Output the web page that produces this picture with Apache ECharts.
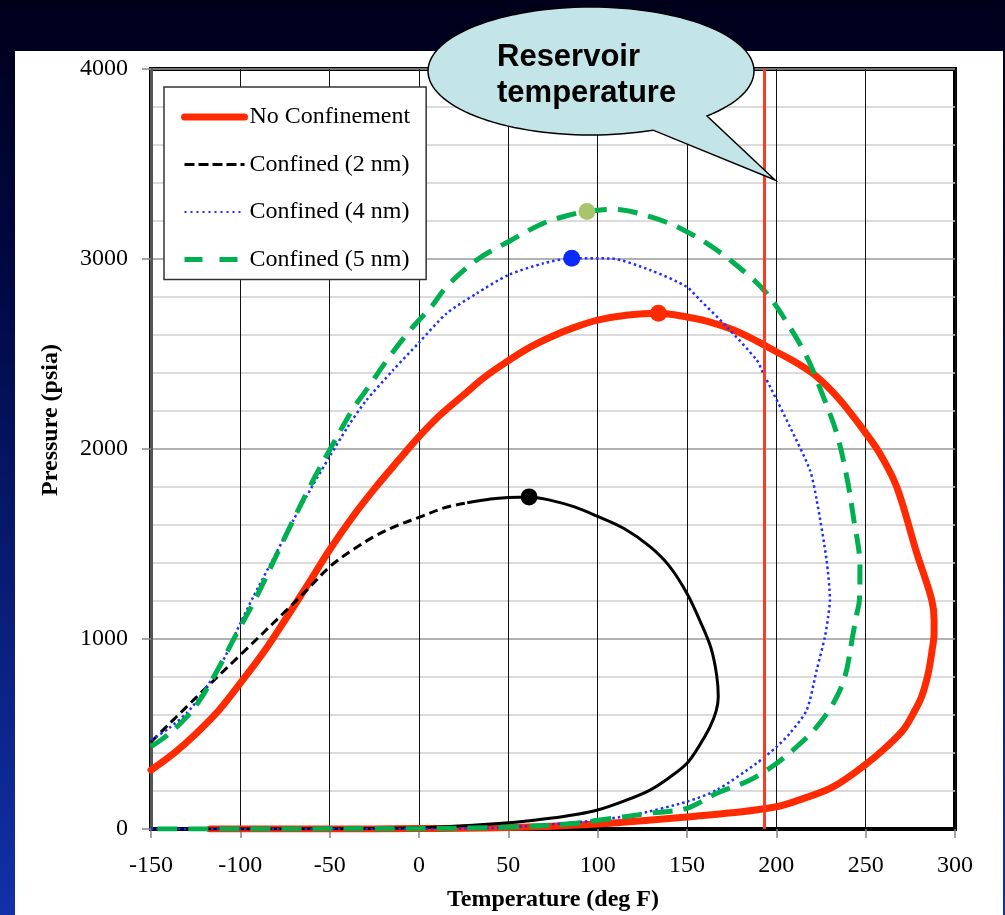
<!DOCTYPE html>
<html>
<head>
<meta charset="utf-8">
<script src="https://cdn.jsdelivr.net/npm/echarts@6/dist/echarts.min.js"></script>
<style>
html,body{margin:0;padding:0;background:#000018;}
#chart{width:1005px;height:915px;}
</style>
</head>
<body>
<div id="chart"></div>
<script>
// ---- Data: [temperature (deg F), pressure (psia)] ----
const noConfinement = [
  [-150,310],[-137,400],[-125,500],[-112,625],[-100,768],[-87,930],[-75,1100],[-62,1290],[-50,1470],
  [-37,1645],[-25,1790],[-12,1935],[0,2065],[12,2180],[25,2285],[37,2380],[50,2465],[62,2535],
  [75,2595],[87,2640],[100,2678],[117,2705],[134,2714],[150,2695],[162,2670],[175,2630],[187,2578],
  [200,2512],[211,2455],[222.6,2381],[235.6,2258],[250,2084],[258,1975],[267.4,1800],[278.6,1452],
  [287,1205],[288.3,1100],[288.3,1030],[287.2,942],[285,819],[281.3,696],[276.7,609],[271,521],
  [261.7,433],[250,340],[232,223],[215,160],[200,117],[175,85],[151.7,65],[125,43],[100,26],
  [75,15],[50,8],[25,4],[0,2],[-50,0],[-117,0]
];
const confined2nmBubble = [
  [-150,458],[-125,690],[-100,916],[-74,1153],[-62,1265],[-50,1380],[-37,1470],[-24,1545],
  [-12,1598],[0,1640],[14,1690],[27,1717]
];
const confined2nmDew = [
  [27,1717],[40,1737],[50,1745],[61.6,1748],[73.3,1731],[87,1695],[100,1645],[115,1580],[129.3,1486],
  [140,1385],[150,1240],[158,1080],[163.5,950],[166.6,810],[167.5,696],[166.3,620],[162.9,538],
  [157,440],[150,346],[140,270],[129.3,205],[115,148],[100,100],[87,75],[73.3,56],[60,42],[50,33],
  [25,17],[0,7],[-50,1],[-150,0]
];
const confined4nm = [
  [-150,468],[-140,530],[-130,610],[-122.6,696],[-110,880],[-100,1083],[-92.7,1223],[-80,1450],
  [-70.3,1626],[-60,1800],[-50,1960],[-40,2115],[-30,2250],[-14.4,2416],[0,2560],[15.5,2714],
  [32.3,2819],[50,2916],[69.6,2977],[85.5,3004],[106.9,3003],[129.3,2942],[149.8,2854],[157.3,2784],
  [172.2,2644],[189,2468],[192.7,2398],[196.5,2328],[207.6,2117],[218.8,1889],[222.6,1731],
  [228.1,1416],[230,1205],[229,1117],[227.2,1012],[222.6,837],[217,626],[207.6,504],[200.2,433],
  [189,346],[166.6,205],[150,144],[120,74],[92,39],[60,15],[40,5],[0,0],[-150,0]
];
const confined5nm = [
  [-150,433],[-140,500],[-130,590],[-122.6,679],[-112,850],[-102,1030],[-90.9,1223],[-74,1556],
  [-59.2,1837],[-50,1995],[-37,2210],[-28,2330],[-17,2480],[-5,2625],[7.4,2755],[15.5,2855],
  [32.3,2995],[50,3091],[69.6,3188],[84.5,3232],[94,3250],[108.8,3261],[129.3,3223],[148,3153],
  [166.6,3047],[185.3,2907],[194.6,2819],[203.9,2696],[217,2486],[226.3,2275],[233.8,2082],
  [239.4,1854],[243.1,1644],[246.8,1380],[246.5,1205],[245,1130],[243,1030],[238.4,802],
  [231.9,662],[222.6,538],[211.4,433],[200.2,346],[185.3,258],[166.6,188],[150,109],[129.3,83],
  [101.3,47],[82.6,26],[50,10],[0,2],[-150,0]
];
const criticalPoints = [
  [134,2714],[61.6,1748],[85.5,3004],[94,3250]
];
const criticalColors = ['#FF2A00','#000000','#0A2BFF','#A8C46C'];
const seriesNames = ['No Confinement','Confined (2 nm)','Confined (4 nm)','Confined (5 nm)'];
const reservoirTemperature = 193;
const calloutText = 'Reservoir\ntemperature';

// speech-bubble outline (ellipse arc + tail), in pixels
function calloutOutline() {
  const cx = 591, cy = 71, rx = 163, ry = 64;
  const a0 = 44.6 * Math.PI / 180, a1 = (67.6 - 360) * Math.PI / 180;
  const pts = [];
  const n = 120;
  for (let i = 0; i <= n; i++) {
    const a = a0 + (a1 - a0) * i / n;
    pts.push([cx + rx * Math.cos(a), cy + ry * Math.sin(a)]);
  }
  pts.push([775, 180]);
  return pts;
}

const chart = echarts.init(document.getElementById('chart'), null, {renderer:'canvas'});
const serif = 'Liberation Serif';
const hideSym = {opacity:0};

const option = {
  animation: false,
  grid: { left:151, right:50, top:69, bottom:86, show:true, borderColor:'#000', borderWidth:4,
          backgroundColor:'transparent', containLabel:false, outerBoundsMode:'none' },
  xAxis: {
    type:'value', min:-150, max:300, interval:50,
    name:'Temperature (deg F)', nameLocation:'middle', nameGap:59,
    nameTextStyle:{fontFamily:serif, fontWeight:'bold', fontSize:24, color:'#000'},
    axisLine:{show:true, onZero:false, lineStyle:{color:'#000', width:3}},
    axisTick:{show:true, length:9, lineStyle:{color:'#888', width:1.5}},
    axisLabel:{fontFamily:serif, fontSize:24, color:'#000', margin:25, formatter: v => String(v)},
    splitLine:{show:true, lineStyle:{color:'#111', width:1}}
  },
  yAxis: {
    type:'value', min:0, max:4000, interval:1000,
    axisLine:{show:true, onZero:false, lineStyle:{color:'#555', width:3}},
    axisTick:{show:true, length:9, lineStyle:{color:'#888', width:1.5}},
    axisLabel:{fontFamily:serif, fontSize:24, color:'#000', margin:23, padding:[3,0,0,0], formatter: v => String(v)},
    splitLine:{show:true, lineStyle:{color:'#999', width:1.5}},
    minorTick:{show:false, splitNumber:5},
    minorSplitLine:{show:true, lineStyle:{color:'#cfcfcf', width:1.5}}
  },
  legend: {
    data: [
      {name:seriesNames[0], lineStyle:{color:'#FF2A00', width:7, type:'solid'}, itemStyle:hideSym},
      {name:seriesNames[1], lineStyle:{color:'#000', width:3, type:[10,4]}, itemStyle:hideSym},
      {name:seriesNames[2], lineStyle:{color:'#1F2FFF', width:2, type:[2,4]}, itemStyle:hideSym},
      {name:seriesNames[3], lineStyle:{color:'#00B050', width:5, type:[18,17]}, itemStyle:hideSym}
    ],
    orient:'vertical', left:164, top:87, itemWidth:60, itemHeight:14, itemGap:23.5,
    padding:[18,16,8,17], backgroundColor:'#fff', borderColor:'#333', borderWidth:1.5,
    itemStyle:{opacity:0},
    textStyle:{fontFamily:serif, fontSize:24, color:'#000', lineHeight:24},
    selectedMode:false
  },
  graphic: [
    { type:'rect', z:-100, silent:true, shape:{x:0,y:0,width:1005,height:915},
      style:{fill:new echarts.graphic.LinearGradient(0,0,0,1,[
        {offset:0,color:'#00001a'},{offset:0.3,color:'#000844'},{offset:1,color:'#1231a8'}])} },
    { type:'rect', z:-99, silent:true, shape:{x:15,y:51,width:988,height:864}, style:{fill:'#fff'} },
    { type:'text', z:50, silent:true, x:51, y:420, rotation:Math.PI/2,
      style:{text:'Pressure (psia)', fontFamily:serif, fontWeight:'bold', fontSize:24, fill:'#000', align:'center', verticalAlign:'middle'} },
    { type:'polygon', z:100, silent:true, shape:{points:calloutOutline()},
      style:{fill:'#C4E5E8', stroke:'#000', lineWidth:1.5} },
    { type:'text', z:101, silent:true, x:497, y:39,
      style:{text:calloutText, fontFamily:'Liberation Sans', fontWeight:'bold', fontSize:31, lineHeight:36, fill:'#000'} }
  ],
  series: [
    { name:seriesNames[0], type:'line', data:noConfinement, symbol:'none', smooth:0.35,
      lineStyle:{color:'#FF2A00', width:7, cap:'round', join:'round'}, itemStyle:{color:'#FF2A00'},
      markLine:{silent:true, symbol:['none','none'], label:{show:false}, animation:false,
        lineStyle:{color:'#FF3A20', width:3, type:'solid'}, data:[{xAxis:reservoirTemperature}]} },
    { name:seriesNames[1], type:'line', data:confined2nmBubble, symbol:'none', smooth:0.35,
      lineStyle:{color:'#000', width:3, type:[9,5]}, itemStyle:{color:'#000'} },
    { name:'dew2', type:'line', data:confined2nmDew, symbol:'none', smooth:0.35,
      lineStyle:{color:'#000', width:3}, itemStyle:{color:'#000'} },
    { name:seriesNames[2], type:'line', data:confined4nm, symbol:'none', smooth:0.25,
      lineStyle:{color:'#1F2FFF', width:2.5, type:[2.5,3]}, itemStyle:{color:'#1F2FFF'} },
    { name:seriesNames[3], type:'line', data:confined5nm, symbol:'none', smooth:0.35,
      lineStyle:{color:'#00B050', width:5, type:[20,11]}, itemStyle:{color:'#00B050'} },
    { name:'critical', type:'scatter', symbolSize:17, z:5,
      data: criticalPoints.map((p,i)=>({value:p, itemStyle:{color:criticalColors[i], opacity:1}})) }
  ]
};
chart.setOption(option);
</script>
</body>
</html>
